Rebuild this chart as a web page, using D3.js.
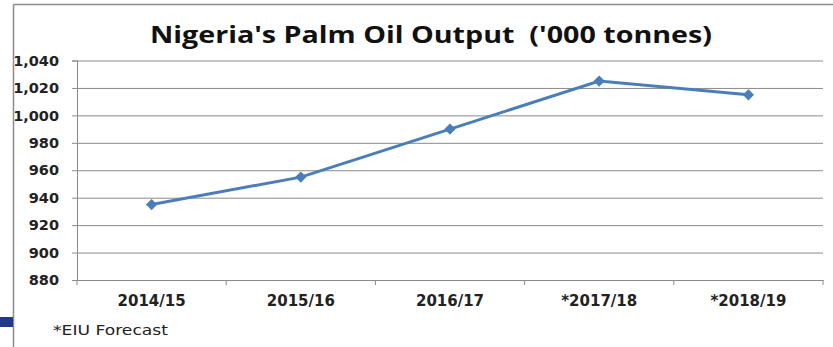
<!DOCTYPE html>
<html>
<head>
<meta charset="utf-8">
<script src="https://cdn.jsdelivr.net/npm/d3@7"></script>
<style>
  body { margin: 0; background: #fff; }
  svg { display: block; }
</style>
</head>
<body>
<svg id="chart" width="833" height="347"></svg>
<script>
// Data
const seasons = ["2014/15", "2015/16", "2016/17", "*2017/18", "*2018/19"];
const output = [935, 955, 990, 1025, 1015];
const yTicks = [880, 900, 920, 940, 960, 980, 1000, 1020, 1040];

const svg = d3.select("#chart");
const W = 833, H = 347;
const margin = {top: 60.5, right: 10, bottom: 67, left: 77};
const labelFont = "'DejaVu Sans', Verdana, sans-serif";

// Frame lines around the slide area
svg.append("line")
  .attr("x1", 13.5).attr("x2", W).attr("y1", 4.5).attr("y2", 4.5)
  .attr("stroke", "#8c8c8c").attr("stroke-width", 1.5);
svg.append("line")
  .attr("x1", 13.5).attr("x2", 13.5).attr("y1", 4.5).attr("y2", H)
  .attr("stroke", "#8c8c8c").attr("stroke-width", 1.5);

// Title (the source picture is stretched horizontally, so stretch the text too)
svg.append("text")
  .attr("x", 150)
  .attr("y", 43)
  .attr("font-family", "'Open Sans', sans-serif")
  .attr("font-weight", "bold")
  .attr("font-size", "24px")
  .attr("fill", "#111")
  .attr("textLength", 562)
  .attr("lengthAdjust", "spacingAndGlyphs")
  .attr("xml:space", "preserve")
  .text("Nigeria's Palm Oil Output  ('000 tonnes)");

// Scales
const xScale = d3.scaleBand()
  .domain(seasons)
  .range([margin.left, 823]);

const yScale = d3.scaleLinear()
  .domain([880, 1040])
  .range([H - margin.bottom, margin.top]);

// Grid lines
svg.append("g")
  .attr("class", "grid")
  .attr("transform", `translate(${margin.left},0)`)
  .call(d3.axisLeft(yScale)
    .tickValues(yTicks)
    .tickSize(-(823 - margin.left))
    .tickFormat(""))
  .call(g => g.select(".domain").remove())
  .call(g => g.selectAll("line").attr("stroke", "#8a8a8a").attr("stroke-width", 1));

// Y axis
const yAxis = svg.append("g")
  .attr("transform", `translate(${margin.left},0)`)
  .call(d3.axisLeft(yScale)
    .tickValues(yTicks)
    .tickSize(5)
    .tickPadding(13)
    .tickFormat(d3.format(",")));
yAxis.selectAll("line, path").attr("stroke", "#8a8a8a");
yAxis.selectAll("text")
  .attr("font-family", labelFont)
  .attr("font-weight", "bold")
  .attr("font-size", "14.5px")
  .attr("fill", "#222");

// X axis
const xAxis = svg.append("g")
  .attr("transform", `translate(0,${yScale(880)})`)
  .call(d3.axisBottom(xScale).tickSize(0).tickPadding(15));
xAxis.select(".domain").attr("stroke", "#8a8a8a");
xAxis.selectAll("text")
  .attr("font-family", labelFont)
  .attr("font-weight", "bold")
  .attr("font-size", "15px")
  .attr("fill", "#222");
// Category boundary ticks
const boundaries = seasons.map(s => xScale(s)).concat([xScale.range()[1]]);
svg.append("g").selectAll("line")
  .data(boundaries)
  .join("line")
  .attr("x1", d => d).attr("x2", d => d)
  .attr("y1", yScale(880)).attr("y2", yScale(880) + 5)
  .attr("stroke", "#8a8a8a");

// Line
const line = d3.line()
  .x((d, i) => xScale(seasons[i]) + xScale.bandwidth() / 2)
  .y(d => yScale(d));

svg.append("path")
  .datum(output)
  .attr("fill", "none")
  .attr("stroke", "#4a7ebb")
  .attr("stroke-width", 3)
  .attr("d", line);

// Diamond markers
svg.selectAll(".pt")
  .data(output)
  .join("path")
  .attr("class", "pt")
  .attr("d", d3.symbol().type(d3.symbolDiamond2).size(80))
  .attr("transform", (d, i) => `translate(${xScale(seasons[i]) + xScale.bandwidth() / 2},${yScale(d)})`)
  .attr("fill", "#4a7ebb");

// Footnote
svg.append("rect")
  .attr("x", 0).attr("y", 317).attr("width", 13).attr("height", 10)
  .attr("fill", "#24388a");
svg.append("text")
  .attr("x", 53)
  .attr("y", 335)
  .attr("font-family", labelFont)
  .attr("font-size", "13.5px")
  .attr("fill", "#222")
  .attr("textLength", 115)
  .attr("lengthAdjust", "spacingAndGlyphs")
  .text("*EIU Forecast");
</script>
</body>
</html>
